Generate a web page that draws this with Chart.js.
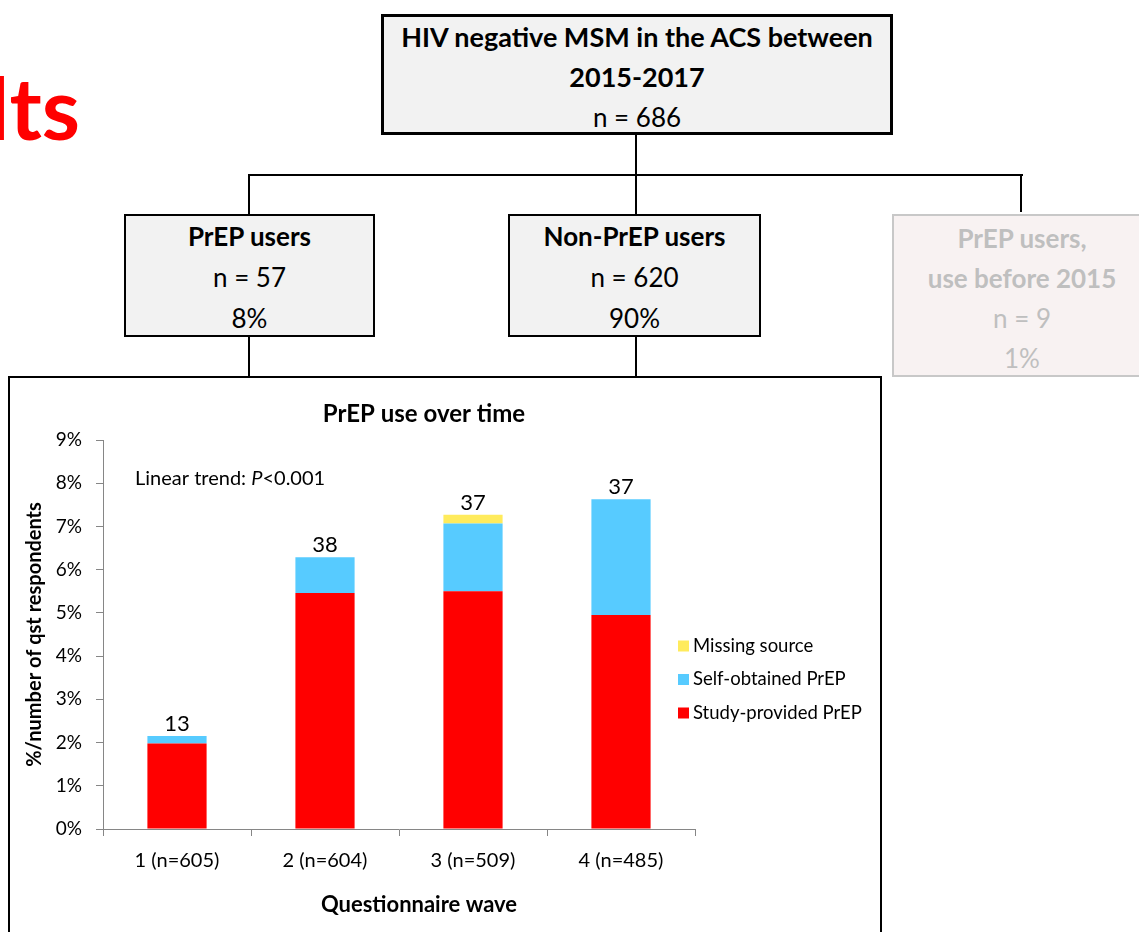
<!DOCTYPE html>
<html><head><meta charset="utf-8">
<script src="https://cdn.jsdelivr.net/npm/chart.js@4.4.1/dist/chart.umd.min.js"></script>
<style>
html,body{margin:0;padding:0;background:#fff;width:1139px;height:932px;overflow:hidden;position:relative;font-family:Lato, sans-serif;}
.box{position:absolute;box-sizing:border-box;background:#f2f2f2;border:2px solid #000;text-align:center;font-size:26px;color:#000;}
.line{position:absolute;background:#000;}
b{font-weight:700;}
</style></head><body>
<div style="position:absolute;left:-420px;top:42px;width:500px;text-align:right;font-size:87px;font-weight:700;color:#ff0000;line-height:130px;">Results</div>

<div class="box" style="left:381px;top:14px;width:512px;height:121px;border-width:3px;line-height:40px;padding-top:0;">
  <div style="font-size:27px;"><b>HIV negative MSM in the ACS between</b></div>
  <div style="font-size:27px;"><b>2015-2017</b></div>
  <div>n = 686</div>
</div>
<div class="line" style="left:635px;top:134px;width:2px;height:42px;"></div>
<div class="line" style="left:248px;top:174px;width:775px;height:2px;"></div>
<div class="line" style="left:248px;top:174px;width:2px;height:41px;"></div>
<div class="line" style="left:635px;top:174px;width:2px;height:41px;"></div>
<div class="line" style="left:1020px;top:174px;width:2px;height:38px;"></div>

<div class="box" style="left:124px;top:214px;width:251px;height:123px;line-height:41px;">
  <div><b>PrEP users</b></div><div>n = 57</div><div>8%</div>
</div>
<div class="box" style="left:508px;top:214px;width:253px;height:123px;line-height:41px;">
  <div><b>Non-PrEP users</b></div><div>n = 620</div><div>90%</div>
</div>
<div class="box" style="left:892px;top:214px;width:260px;height:163px;line-height:40px;background:#f8f2f2;border-color:#c8c8c8;color:#bfbfbf;padding-top:2px;">
  <div><b>PrEP users,</b></div><div><b>use before 2015</b></div><div>n = 9</div><div>1%</div>
</div>
<div class="line" style="left:248px;top:336px;width:2px;height:41px;"></div>
<div class="line" style="left:635px;top:336px;width:2px;height:41px;"></div>

<div style="position:absolute;left:8px;top:376px;width:870px;height:570px;border:2px solid #000;background:#fff;">
  <canvas id="c" style="position:absolute;left:0;top:0;"></canvas>
</div>

<script>
const categories = ['1 (n=605)', '2 (n=604)', '3 (n=509)', '4 (n=485)'];
const studyProvided = [1.98, 5.46, 5.50, 4.95];
const selfObtained = [0.17, 0.83, 1.57, 2.68];
const missingSource = [0, 0, 0.20, 0];
const totalCounts = [13, 38, 37, 37];
const seriesNames = ['Study-provided PrEP', 'Self-obtained PrEP', 'Missing source'];
const seriesColors = ['#ff0000', '#57cbff', '#ffeb5c'];
const yMin = 0, yMax = 9, yStep = 1;
const chartTitle = 'PrEP use over time';
const xTitle = 'Questionnaire wave';
const yTitle = '%/number of qst respondents';

const canvas = document.getElementById('c');
canvas.width = 870; canvas.height = 554;
canvas.style.width = '870px'; canvas.style.height = '554px';

Chart.defaults.font.family = 'Lato, sans-serif';
Chart.defaults.color = '#000';

const extras = {
  id: 'extras',
  afterDatasetsDraw(chart) {
    const ctx = chart.ctx;
    const ca = chart.chartArea;
    const y = chart.scales.y;
    ctx.save();
    ctx.fillStyle = '#000';
    // chart title and x-axis title
    ctx.textAlign = 'center';
    ctx.textBaseline = 'middle';
    ctx.font = 'bold 24px Lato, sans-serif';
    ctx.fillText(chartTitle, ca.left + 321, ca.top - 26);
    ctx.font = 'bold 22px Lato, sans-serif';
    ctx.fillText(xTitle, ca.left + 316, ca.bottom + 76);
    // totals above bars
    ctx.font = '22px Lato, sans-serif';
    ctx.textBaseline = 'bottom';
    categories.forEach((c, i) => {
      let topY = Infinity, x = 0;
      chart.data.datasets.forEach((ds, di) => {
        const el = chart.getDatasetMeta(di).data[i];
        if (el.y < topY) { topY = el.y; x = el.x; }
      });
      ctx.fillText(String(totalCounts[i]), x, topY - 1);
    });
    // Linear trend annotation
    ctx.textAlign = 'left';
    ctx.textBaseline = 'middle';
    const ty = y.getPixelForValue(8.1);
    let tx = ca.left + 32;
    ctx.font = '20px Lato, sans-serif';
    const a = 'Linear trend: ';
    ctx.fillText(a, tx, ty); tx += ctx.measureText(a).width;
    ctx.font = 'italic 20px Lato, sans-serif';
    ctx.fillText('P', tx, ty); tx += ctx.measureText('P').width;
    ctx.font = '20px Lato, sans-serif';
    ctx.fillText('<0.001', tx, ty);
    // legend (reverse order)
    const lx = ca.right - 17;
    let ly = ca.top + 206;
    ctx.font = '18.5px Lato, sans-serif';
    for (let di = chart.data.datasets.length - 1; di >= 0; di--) {
      const ds = chart.data.datasets[di];
      ctx.fillStyle = ds.backgroundColor;
      ctx.fillRect(lx, ly - 5.5, 11, 11);
      ctx.fillStyle = '#000';
      ctx.fillText(ds.label, lx + 15, ly);
      ly += 33.5;
    }
    ctx.restore();
  }
};

new Chart(canvas, {
  type: 'bar',
  data: {
    labels: categories,
    datasets: [
      { label: seriesNames[0], data: studyProvided, backgroundColor: seriesColors[0] },
      { label: seriesNames[1], data: selfObtained, backgroundColor: seriesColors[1] },
      { label: seriesNames[2], data: missingSource, backgroundColor: seriesColors[2] }
    ]
  },
  options: {
    responsive: false,
    animation: false,
    devicePixelRatio: 1,
    layout: { padding: { left: 5, right: 185, top: 62, bottom: 0 } },
    datasets: { bar: { barPercentage: 0.4, categoryPercentage: 1.0, borderWidth: 0 } },
    plugins: {
      legend: { display: false },
      tooltip: { enabled: false },
      title: { display: false }
    },
    scales: {
      x: {
        stacked: true,
        border: { color: '#868686', width: 1 },
        grid: { display: true, drawOnChartArea: false, offset: true, tickLength: 7, color: '#868686' },
        ticks: { font: { size: 20 }, color: '#000', padding: 13 },
        title: { display: false },
        afterFit(s) { s.height = 103; }
      },
      y: {
        stacked: true,
        min: yMin, max: yMax,
        border: { color: '#868686', width: 1 },
        grid: { display: true, drawOnChartArea: false, tickLength: 7, color: '#868686' },
        ticks: { stepSize: yStep, font: { size: 19 }, color: '#000', padding: 14, callback: v => v + '%' },
        title: { display: true, text: yTitle, font: { size: 20, weight: 'bold' }, color: '#000', padding: { top: 8, bottom: 0 } },
        afterFit(s) { s.width = 88; }
      }
    }
  },
  plugins: [extras]
});
</script>
</body></html>
